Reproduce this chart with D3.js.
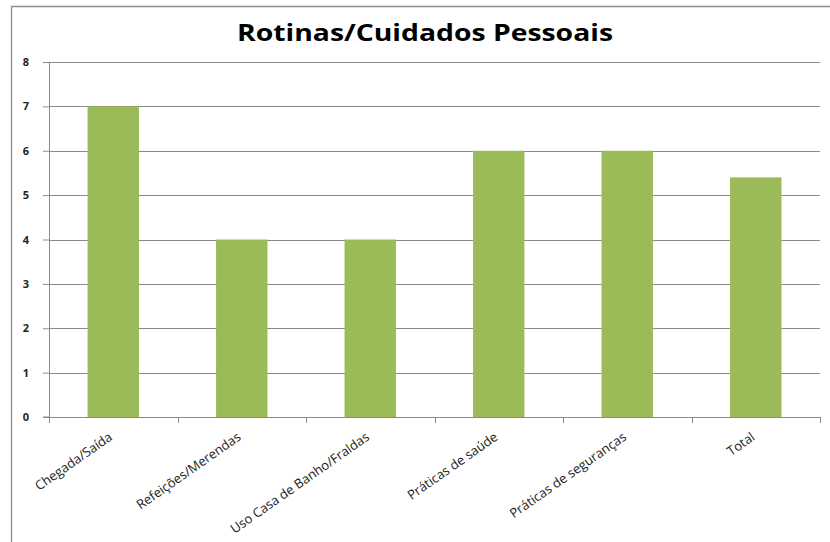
<!DOCTYPE html>
<html>
<head>
<meta charset="utf-8">
<script src="https://cdn.jsdelivr.net/npm/d3@7"></script>
<style>
  body { margin: 0; background: #fff; }
  svg { display: block; }
</style>
</head>
<body>
<div id="chart"></div>
<script>
// chart data
var categories = ["Chegada/Saída", "Refeições/Merendas", "Uso Casa de Banho/Fraldas",
  "Práticas de saúde", "Práticas de seguranças", "Total"];
var values = [7, 4, 4, 6, 6, 5.4];
var yTicks = [0, 1, 2, 3, 4, 5, 6, 7, 8];
var chartTitle = "Rotinas/Cuidados Pessoais";

var svgWidth = 830;
var svgHeight = 542;

var margin = { top: 62, right: 10, bottom: 125, left: 49 };
var width = 820 - margin.left;
var height = 417 - margin.top;

var svg = d3.select("#chart")
  .append("svg")
  .attr("width", svgWidth)
  .attr("height", svgHeight);

// chart frame (only top and left edges visible in the crop)
svg.append("path")
  .attr("d", "M11.5,542 V6.5 H830")
  .attr("fill", "none")
  .attr("stroke", "#8c8c8c")
  .attr("stroke-width", 1.3);

svg.append("text")
  .attr("x", 425)
  .attr("y", 41)
  .attr("text-anchor", "middle")
  .attr("font-family", "'Open Sans', sans-serif")
  .attr("font-weight", "bold")
  .attr("font-size", 23)
  .attr("textLength", 376)
  .attr("lengthAdjust", "spacingAndGlyphs")
  .attr("fill", "#000")
  .text(chartTitle);

var chartGroup = svg.append("g")
  .attr("transform", `translate(${margin.left}, ${margin.top})`);

var xScale = d3.scaleBand()
  .domain(categories)
  .range([0, width])
  .paddingInner(0.6)
  .paddingOuter(0.3);

var yScale = d3.scaleLinear()
  .domain([0, 8])
  .range([height, 0]);

// gridlines
chartGroup.append("g")
  .selectAll("line")
  .data(yTicks.filter(d => d > 0))
  .enter()
  .append("line")
  .attr("x1", 0)
  .attr("x2", width)
  .attr("y1", d => Math.round(yScale(d)) + 0.5)
  .attr("y2", d => Math.round(yScale(d)) + 0.5)
  .attr("stroke", "#8a8a8a")
  .attr("stroke-width", 1);

// bars
chartGroup.selectAll("rect")
  .data(values)
  .enter()
  .append("rect")
  .attr("x", (d, i) => xScale(categories[i]))
  .attr("y", d => yScale(d))
  .attr("width", xScale.bandwidth())
  .attr("height", d => height - yScale(d))
  .attr("fill", "#9bbb59");

// y axis
var leftAxis = d3.axisLeft(yScale)
  .tickValues(yTicks)
  .tickSize(6)
  .tickPadding(14)
  .tickFormat(d3.format("d"));

var yAxis = chartGroup.append("g")
  .call(leftAxis);

yAxis.select(".domain").attr("stroke", "#8a8a8a").attr("d", `M-6,${height}H0.5V0`);
yAxis.selectAll(".tick line").attr("stroke", "#8a8a8a");
yAxis.selectAll(".tick text")
  .attr("font-family", "'Open Sans', sans-serif")
  .attr("font-weight", "bold")
  .attr("font-size", 11)
  .attr("fill", "#222");

// x axis line and ticks at category boundaries
var step = xScale.step();
var bounds = d3.range(categories.length + 1).map(i => i * step);

chartGroup.append("line")
  .attr("x1", 0)
  .attr("x2", width)
  .attr("y1", height + 0.5)
  .attr("y2", height + 0.5)
  .attr("stroke", "#8a8a8a");

chartGroup.append("g")
  .selectAll("line")
  .data(bounds)
  .enter()
  .append("line")
  .attr("x1", d => Math.round(d) + 0.5)
  .attr("x2", d => Math.round(d) + 0.5)
  .attr("y1", height)
  .attr("y2", height + 6)
  .attr("stroke", "#8a8a8a");

// rotated category labels
chartGroup.append("g")
  .selectAll("text")
  .data(categories)
  .enter()
  .append("text")
  .attr("transform", d => `translate(${xScale(d) + xScale.bandwidth() / 2}, ${height + 22}) rotate(-35)`)
  .attr("text-anchor", "end")
  .attr("font-family", "'Open Sans', sans-serif")
  .attr("font-size", 13)
  .attr("fill", "#222")
  .text(d => d);
</script>
</body>
</html>
